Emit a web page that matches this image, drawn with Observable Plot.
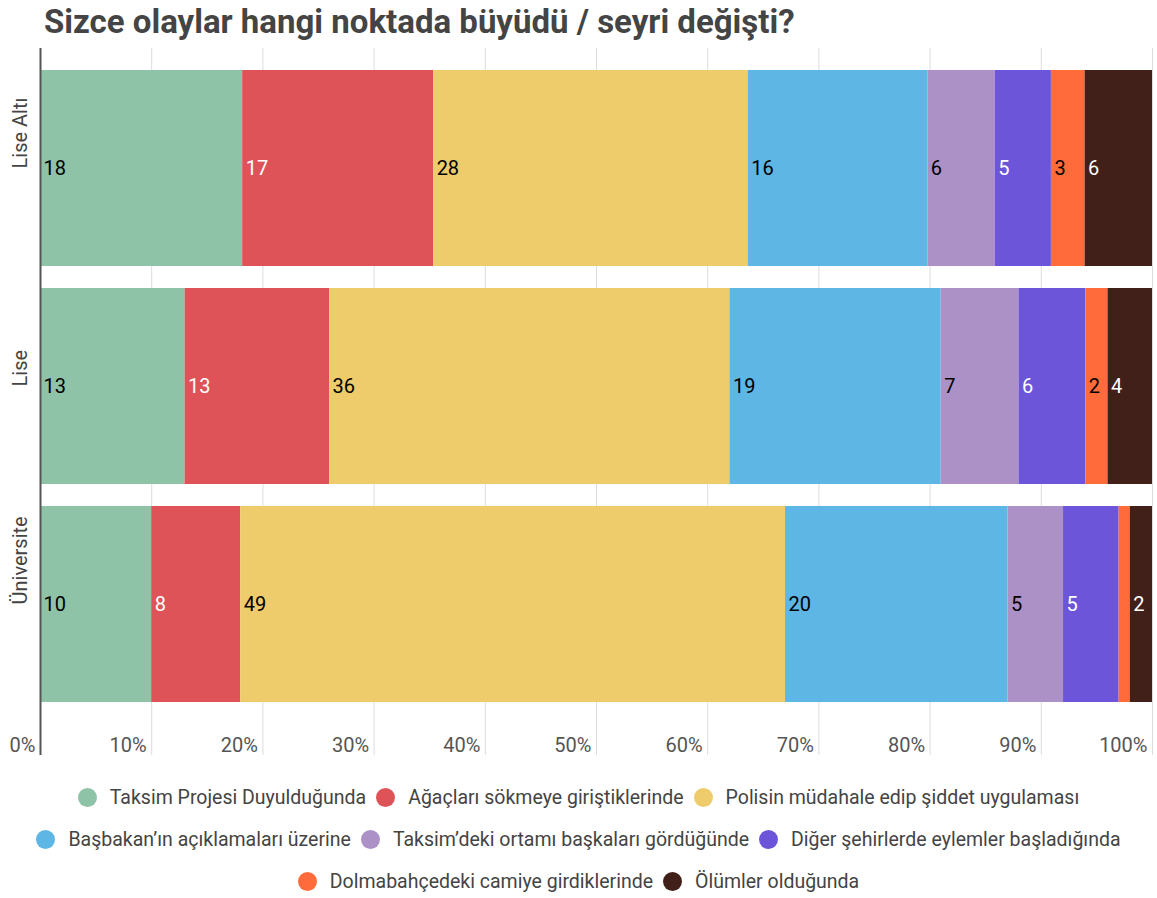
<!DOCTYPE html>
<html>
<head>
<meta charset="utf-8">
<script src="https://cdn.jsdelivr.net/npm/d3@7"></script>
<script src="https://cdn.jsdelivr.net/npm/@observablehq/plot@0.6"></script>
<style>
  body { margin: 0; background: #fff; font-family: Roboto, sans-serif; }
  #title { height: 45px; line-height: 44px; padding-left: 44px; font-size: 33px; font-weight: 700; color: #444; white-space: nowrap; }
  #legend { margin-top: 16px; font-size: 19.5px; color: #444; }
  .row { display: flex; justify-content: center; align-items: center; height: 42px; }
  .item { display: flex; align-items: center; margin: 0 5px; }
  .dot { width: 19px; height: 19px; border-radius: 50%; margin-right: 13px; }
</style>
</head>
<body>
<div id="title">Sizce olaylar hangi noktada büyüdü / seyri değişti?</div>
<div id="chart"></div>
<div id="legend"></div>
<script>
const groups = ["Lise Altı", "Lise", "Üniversite"];
const categories = [
  "Taksim Projesi Duyulduğunda",
  "Ağaçları sökmeye giriştiklerinde",
  "Polisin müdahale edip şiddet uygulaması",
  "Başbakan’ın açıklamaları üzerine",
  "Taksim’deki ortamı başkaları gördüğünde",
  "Diğer şehirlerde eylemler başladığında",
  "Dolmabahçedeki camiye girdiklerinde",
  "Ölümler olduğunda"
];
const colors = ["#8fc3a7", "#dd5357", "#eecb6b", "#5db6e4", "#ab91c6", "#6d55d9", "#ff6b3a", "#42201a"];
const labelColors = ["#000", "#fff", "#000", "#000", "#000", "#fff", "#000", "#fff"];
const liseAlti = [18, 17, 28, 16, 6, 5, 3, 6];
const lise = [13, 13, 36, 19, 7, 6, 2, 4];
const universite = [10, 8, 49, 20, 5, 5, 1, 2];
const xTicks = [0, 0.1, 0.2, 0.3, 0.4, 0.5, 0.6, 0.7, 0.8, 0.9, 1];
const rowBreaks = [[0, 3], [3, 6], [6, 8]];

const series = [liseAlti, lise, universite];
const data = [];
groups.forEach((g, gi) => categories.forEach((c, ci) => {
  data.push({group: g, cat: c, value: series[gi][ci], ci});
}));

const stackOpts = {x: "value", y: "group", z: "cat", order: categories, offset: "normalize"};

const chart = Plot.plot({
  width: 1157,
  height: 715,
  marginLeft: 40,
  marginRight: 5,
  marginTop: 3,
  marginBottom: 5,
  style: {fontFamily: "Roboto, sans-serif", background: "#fff"},
  x: {domain: [0, 1], axis: null},
  y: {domain: groups, range: [25, 658], paddingInner: 0.1, paddingOuter: 0, axis: null},
  color: {domain: categories, range: colors},
  marks: [
    Plot.ruleX(xTicks.slice(1), {stroke: "#dcdcdc", strokeWidth: 1}),
    Plot.barX(data, Plot.stackX({...stackOpts, fill: "cat"})),
    Plot.text(data, Plot.stackX1({
      ...stackOpts,
      text: d => d.value > 1 ? String(d.value) : "",
      fill: d => labelColors[d.ci],
      textAnchor: "start",
      dx: 3,
      fontSize: 20
    })),
    Plot.text(xTicks, {
      x: d => d,
      text: d => Math.round(d * 100) + "%",
      frameAnchor: "bottom",
      textAnchor: "end",
      lineAnchor: "bottom",
      dx: -5,
      dy: -4,
      fontSize: 20,
      fill: "#555"
    }),
    Plot.text(groups, {
      y: d => d,
      text: d => d,
      frameAnchor: "left",
      rotate: -90,
      dx: -20,
      fontSize: 20,
      fill: "#444"
    }),
    Plot.ruleX([0], {stroke: "#555", strokeWidth: 2})
  ]
});
document.getElementById("chart").appendChild(chart);

const legend = document.getElementById("legend");
rowBreaks.forEach(([a, b]) => {
  const row = document.createElement("div");
  row.className = "row";
  for (let i = a; i < b; i++) {
    const item = document.createElement("div");
    item.className = "item";
    const dot = document.createElement("span");
    dot.className = "dot";
    dot.style.background = colors[i];
    const label = document.createElement("span");
    label.textContent = categories[i];
    item.appendChild(dot);
    item.appendChild(label);
    row.appendChild(item);
  }
  legend.appendChild(row);
});
</script>
</body>
</html>
